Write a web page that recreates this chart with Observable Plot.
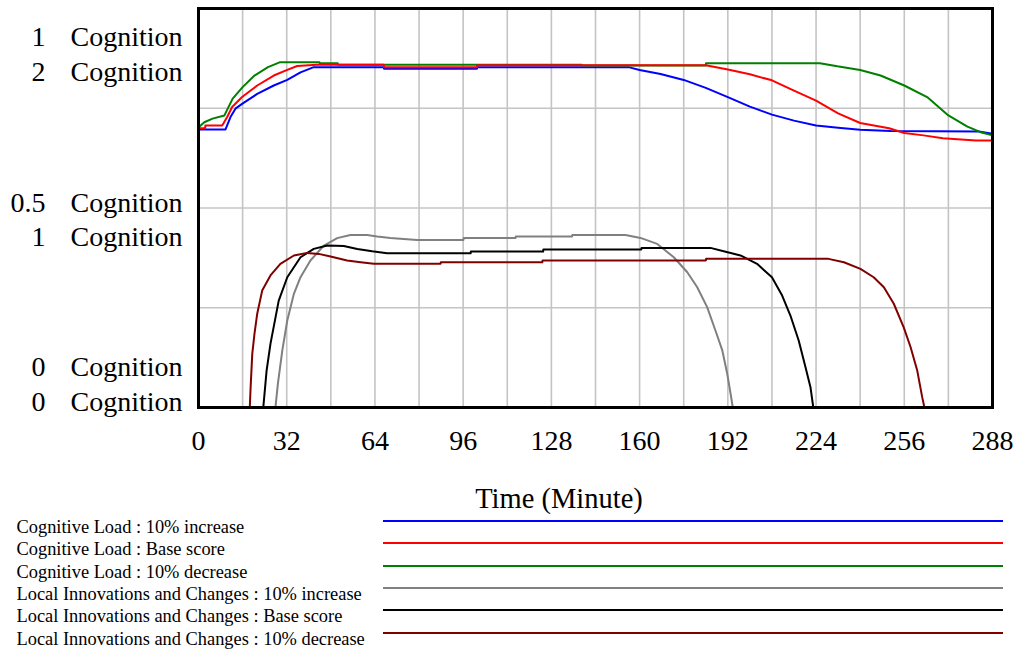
<!DOCTYPE html>
<html>
<head>
<meta charset="utf-8">
<script src="https://cdn.jsdelivr.net/npm/d3@7"></script>
<script src="https://cdn.jsdelivr.net/npm/@observablehq/plot@0.6"></script>
<style>
  html, body { margin: 0; padding: 0; background: #fff; }
  #wrap { position: relative; width: 1018px; height: 652px; font-family: "Liberation Serif", "Times New Roman", serif; color: #000; }
  #wrap svg { position: absolute; left: 0; top: 0; }
  .title { position: absolute; left: 0; width: 1118px; top: 485px; text-align: center; font-size: 28.5px; line-height: 28px; white-space: nowrap; }
  .lrow { position: absolute; left: 0; width: 1018px; height: 22.3px; }
  .ltext { position: absolute; left: 16.5px; top: 0; font-size: 18.4px; line-height: 22.3px; white-space: nowrap; }
  .lline { position: absolute; left: 383px; width: 620px; top: 4px; height: 2px; }
</style>
</head>
<body>
<div id="wrap"></div>
<script>
// ---------- axis / tick data ----------
const xTicks = [0, 32, 64, 96, 128, 160, 192, 224, 256, 288];
const xGrid = [16, 32, 48, 64, 80, 96, 112, 128, 144, 160, 176, 192, 208, 224, 240, 256, 272];
const yTicksLoad = [0, 0.5, 1];      // Cognitive Load axis
const yTicksInnov = [0, 1, 2];       // Local Innovations axis
const yGrid = [0.25, 0.5, 0.75];
const unitLabel = "Cognition";
const xTitle = "Time (Minute)";

// ---------- legend ----------
const seriesNames = [
  "Cognitive Load : 10% increase",
  "Cognitive Load : Base score",
  "Cognitive Load : 10% decrease",
  "Local Innovations and Changes : 10% increase",
  "Local Innovations and Changes : Base score",
  "Local Innovations and Changes : 10% decrease"
];
const seriesColors = ["#0000ff", "#ff0000", "#008000", "#808080", "#000000", "#800000"];

// ---------- series values (time in minutes, value in Cognition) ----------
const loadIncT = [0, 9.8, 11.6, 13.4, 15.8, 21.3, 27.3, 32.2, 37, 41.8, 67.2, 67.3, 101, 101.1, 156, 160, 167.6, 176, 184, 192, 200, 208, 216, 224, 232, 240, 251, 283, 288];
const loadIncV = [0.697, 0.697, 0.728, 0.749, 0.761, 0.786, 0.807, 0.821, 0.840, 0.853, 0.853, 0.849, 0.849, 0.853, 0.853, 0.846, 0.836, 0.821, 0.801, 0.778, 0.754, 0.734, 0.719, 0.707, 0.701, 0.696, 0.693, 0.692, 0.686];

const loadBaseT = [0, 2.4, 2.5, 8.6, 10.4, 12.2, 15.8, 21.3, 27.3, 32.2, 35.8, 43, 67.2, 67.3, 101, 101.1, 184, 192, 200, 208, 216, 224, 232, 240, 250.5, 256, 263, 270, 282, 288];
const loadBaseV = [0.700, 0.700, 0.707, 0.707, 0.728, 0.753, 0.778, 0.807, 0.832, 0.846, 0.856, 0.859, 0.859, 0.853, 0.853, 0.858, 0.858, 0.847, 0.835, 0.820, 0.794, 0.769, 0.737, 0.713, 0.700, 0.688, 0.682, 0.675, 0.669, 0.669];

const loadDecT = [0, 2.1, 5.1, 9.4, 10.6, 12.4, 16, 20.3, 25.2, 29.4, 43.9, 44, 50.5, 50.6, 139, 139.1, 184, 184.1, 225.4, 231.7, 240, 247.4, 256, 264.3, 272, 278.9, 283.7, 288];
const loadDecV = [0.702, 0.715, 0.724, 0.732, 0.749, 0.774, 0.803, 0.832, 0.853, 0.865, 0.865, 0.863, 0.863, 0.859, 0.859, 0.857, 0.857, 0.863, 0.863, 0.855, 0.846, 0.832, 0.807, 0.778, 0.732, 0.704, 0.690, 0.682];

const innovIncT = [0, 27.9, 28.8, 30.4, 32.2, 34.6, 37, 40.6, 45.5, 50.3, 55.1, 61.2, 64.8, 69.6, 79.3, 96.1, 96.2, 115, 115.1, 135.5, 135.6, 154.9, 160.3, 166.4, 172.4, 177.3, 180.9, 184.5, 187.5, 190, 191.8, 193, 193.8, 288];
const innovIncV = [0, 0, 0.12, 0.286, 0.436, 0.57, 0.653, 0.737, 0.812, 0.849, 0.865, 0.865, 0.857, 0.85, 0.84, 0.84, 0.849, 0.849, 0.857, 0.857, 0.865, 0.865, 0.85, 0.82, 0.753, 0.678, 0.603, 0.503, 0.386, 0.286, 0.168, 0.069, 0, 0];

const innovBaseT = [0, 23.5, 24.7, 26.1, 29.1, 32.2, 37, 41.8, 46.7, 52.7, 57.6, 63, 68.4, 98.7, 98.8, 125, 125.1, 160.6, 160.7, 185.7, 190.5, 196.6, 202.6, 208, 211.7, 214.7, 217.7, 220.2, 222, 223, 288];
const innovBaseV = [0, 0, 0.185, 0.319, 0.536, 0.653, 0.753, 0.795, 0.812, 0.809, 0.795, 0.783, 0.773, 0.773, 0.782, 0.782, 0.792, 0.792, 0.80, 0.80, 0.783, 0.762, 0.72, 0.653, 0.561, 0.461, 0.336, 0.20, 0.10, 0, 0];

const innovDecT = [0, 18.6, 18.9, 19.5, 20.3, 21.3, 23.1, 26.1, 29.7, 34.6, 39.4, 43.6, 47.9, 53.9, 58.8, 63.6, 87.8, 87.9, 124.7, 124.8, 184, 184.1, 228.5, 234.1, 240.1, 244.9, 248.6, 252.2, 255.8, 258.3, 260.7, 262.5, 263.3, 288];
const innovDecV = [0, 0, 0.10, 0.269, 0.369, 0.47, 0.586, 0.662, 0.72, 0.762, 0.775, 0.77, 0.757, 0.737, 0.728, 0.72, 0.72, 0.728, 0.728, 0.737, 0.737, 0.745, 0.745, 0.728, 0.695, 0.653, 0.603, 0.52, 0.402, 0.302, 0.185, 0.052, 0, 0];

// ---------- build ----------
const FONT = '"Liberation Serif", "Times New Roman", serif';
const innovMax = yTicksInnov[yTicksInnov.length - 1];
const loadMax = yTicksLoad[yTicksLoad.length - 1];

const series = [
  {t: loadIncT, v: loadIncV, axis: "load"},
  {t: loadBaseT, v: loadBaseV, axis: "load"},
  {t: loadDecT, v: loadDecV, axis: "load"},
  {t: innovIncT, v: innovIncV, axis: "innov"},
  {t: innovBaseT, v: innovBaseV, axis: "innov"},
  {t: innovDecT, v: innovDecV, axis: "innov"}
].map((s, i) => ({...s, name: seriesNames[i], color: seriesColors[i]}));

// draw order: blue, green, red (so red shows where it equals green), then innovations
const drawOrder = [0, 2, 1, 3, 4, 5];
const lineMarks = drawOrder.map(k => {
  const s = series[k];
  const rows = s.t.map((t, i) => ({t, y: s.axis === "load" ? s.v[i] : s.v[i] / innovMax * loadMax}));
  return Plot.line(rows, {x: "t", y: "y", stroke: s.color, strokeWidth: 2});
});

// label pairs: vertical offsets of each pair (style only)
const pairDy = [-25.3, 9.8, 43.8];
const fmt = v => String(v);
const yLabelMarks = yTicksLoad.flatMap((tv, i) => [
  Plot.text([tv], {y: d => d, frameAnchor: "left", dx: -153, dy: pairDy[i], textAnchor: "end", lineAnchor: "middle",
    lineHeight: 1.24, fontSize: 28, fill: "black", text: () => fmt(tv) + "\n" + fmt(yTicksInnov[i])}),
  Plot.text([tv], {y: d => d, frameAnchor: "left", dx: -128, dy: pairDy[i], textAnchor: "start", lineAnchor: "middle",
    lineHeight: 1.24, fontSize: 28, fill: "black", text: () => unitLabel + "\n" + unitLabel})
]);

const chart = Plot.plot({
  width: 1018,
  height: 470,
  marginLeft: 198,
  marginRight: 26,
  marginTop: 8,
  marginBottom: 63,
  x: {domain: [0, 288], axis: null},
  y: {domain: [0, loadMax], axis: null},
  style: {fontFamily: FONT, background: "transparent", color: "black"},
  marks: [
    Plot.gridX(xGrid, {stroke: "#c4c4c4", strokeOpacity: 1, strokeWidth: 1.6}),
    Plot.gridY(yGrid, {stroke: "#c4c4c4", strokeOpacity: 1, strokeWidth: 1.6}),
    ...lineMarks,
    Plot.frame({stroke: "black", strokeWidth: 3}),
    Plot.text(xTicks, {x: d => d, frameAnchor: "bottom", dy: 33.5, lineAnchor: "middle", fontSize: 28, fill: "black", text: d => String(d)}),
    ...yLabelMarks
  ]
});

const wrap = document.getElementById("wrap");
wrap.appendChild(chart);

const title = document.createElement("div");
title.className = "title";
title.textContent = xTitle;
wrap.appendChild(title);

seriesNames.forEach((name, i) => {
  const row = document.createElement("div");
  row.className = "lrow";
  row.style.top = (516.1 + i * 22.3) + "px";
  const txt = document.createElement("div");
  txt.className = "ltext";
  txt.textContent = name;
  const ln = document.createElement("div");
  ln.className = "lline";
  ln.style.background = seriesColors[i];
  row.appendChild(txt);
  row.appendChild(ln);
  wrap.appendChild(row);
});
</script>
</body>
</html>
